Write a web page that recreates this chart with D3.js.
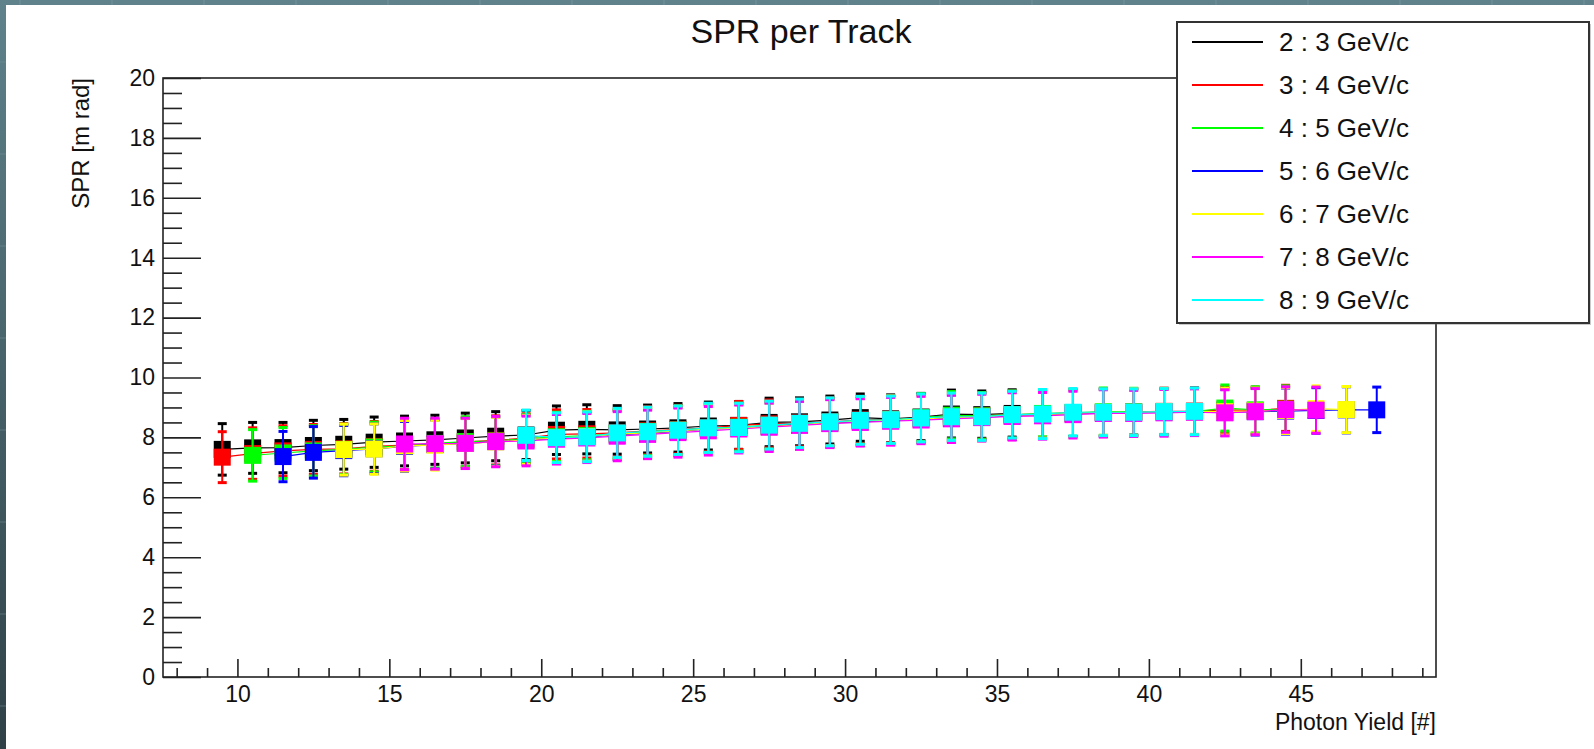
<!DOCTYPE html>
<html>
<head>
<meta charset="utf-8">
<script src="https://cdn.jsdelivr.net/npm/d3@7/dist/d3.min.js"></script>
<style>
  html, body { margin: 0; padding: 0; background: #ffffff; }
  svg { display: block; }
  text { font-family: "Liberation Sans", Arial, Helvetica, sans-serif; fill: #111; }
</style>
</head>
<body>
<svg id="chart" width="1594" height="749"></svg>
<script>
// ---------------- DATA ----------------
const photonYield = [9.5,10.5,11.5,12.5,13.5,14.5,15.5,16.5,17.5,18.5,19.5,20.5,21.5,22.5,23.5,24.5,25.5,26.5,27.5,28.5,29.5,30.5,31.5,32.5,33.5,34.5,35.5,36.5,37.5,38.5,39.5,40.5,41.5,42.5,43.5,44.5,45.5,46.5,47.5];

const seriesLabels = ["2 : 3 GeV/c","3 : 4 GeV/c","4 : 5 GeV/c","5 : 6 GeV/c","6 : 7 GeV/c","7 : 8 GeV/c","8 : 9 GeV/c"];
const seriesColors = ["#000000","#ff0000","#00ff00","#0000ff","#ffff00","#ff00ff","#00ffff"];

const spr_2_3 = [7.60,7.65,7.66,7.73,7.77,7.84,7.88,7.92,7.98,8.04,8.08,8.24,8.27,8.25,8.28,8.32,8.38,8.40,8.50,8.52,8.58,8.66,8.62,8.68,8.78,8.76,8.80,null,null,null,null,null,null,null,null,null,null,null,null];
const err_2_3 = [0.86,0.85,0.84,0.84,0.83,0.84,0.83,0.82,0.83,0.82,0.82,0.81,0.82,0.81,0.80,0.81,0.80,0.80,0.81,0.80,0.80,0.79,0.80,0.79,0.80,0.79,0.79,null,null,null,null,null,null,null,null,null,null,null,null];

const spr_3_4 = [7.34,7.46,7.55,7.60,7.62,7.70,7.74,7.78,7.85,7.90,7.98,8.10,8.12,8.15,8.22,8.26,8.32,8.40,8.45,8.48,8.52,8.58,8.60,8.64,8.70,8.72,8.76,8.78,8.82,8.84,8.85,8.87,8.88,8.92,8.90,8.97,null,null,null];
const err_3_4 = [0.85,0.86,0.84,0.83,0.84,0.83,0.82,0.83,0.82,0.82,0.81,0.82,0.81,0.81,0.80,0.81,0.80,0.80,0.80,0.79,0.80,0.79,0.79,0.80,0.79,0.78,0.79,0.78,0.79,0.78,0.78,0.77,0.78,0.77,0.78,0.77,null,null,null];

const spr_4_5 = [null,7.40,7.48,7.55,7.60,7.68,7.72,7.80,7.86,7.88,7.96,8.02,8.06,8.12,8.20,8.24,8.30,8.34,8.40,8.45,8.50,8.56,8.58,8.66,8.74,8.72,8.76,8.80,8.82,8.86,8.86,8.84,8.86,8.98,8.92,8.94,null,null,null];
const err_4_5 = [null,0.86,0.85,0.84,0.84,0.83,0.83,0.82,0.83,0.82,0.81,0.82,0.81,0.81,0.80,0.81,0.80,0.80,0.79,0.80,0.80,0.79,0.79,0.80,0.79,0.78,0.79,0.78,0.78,0.79,0.78,0.77,0.78,0.77,0.77,0.78,null,null,null];

const spr_5_6 = [null,null,7.36,7.50,7.56,7.62,7.70,7.76,7.80,7.86,7.92,7.96,8.02,8.08,8.14,8.20,8.28,8.30,8.36,8.44,8.48,8.52,8.56,8.62,8.64,8.68,8.72,8.76,8.80,8.82,8.84,8.86,8.86,8.84,8.86,8.88,8.90,8.92,8.92];
const err_5_6 = [null,null,0.84,0.86,0.84,0.83,0.83,0.82,0.83,0.82,0.82,0.81,0.81,0.82,0.80,0.81,0.80,0.80,0.79,0.80,0.80,0.79,0.79,0.80,0.78,0.79,0.79,0.78,0.78,0.79,0.77,0.78,0.78,0.77,0.78,0.77,0.76,0.77,0.76];

const spr_6_7 = [null,null,null,null,7.59,7.61,7.72,7.74,7.80,7.85,7.92,7.98,8.03,8.10,8.16,8.22,8.28,8.30,8.36,8.42,8.50,8.54,8.58,8.62,8.66,8.68,8.74,8.76,8.80,8.84,8.84,8.86,8.86,8.86,8.88,8.90,8.96,8.93,null];
const err_6_7 = [null,null,null,null,0.85,0.84,0.84,0.83,0.83,0.82,0.82,0.81,0.82,0.81,0.80,0.81,0.80,0.80,0.79,0.80,0.79,0.79,0.80,0.78,0.79,0.79,0.78,0.78,0.79,0.77,0.78,0.78,0.77,0.78,0.77,0.77,0.76,0.77,null];

const spr_7_8 = [null,null,null,null,null,null,7.78,7.79,7.80,7.86,7.88,7.94,7.98,8.04,8.10,8.16,8.22,8.28,8.34,8.40,8.46,8.50,8.54,8.58,8.62,8.66,8.70,8.72,8.76,8.80,8.80,8.82,8.84,8.82,8.86,8.93,8.91,null,null];
const err_7_8 = [null,null,null,null,null,null,0.86,0.85,0.84,0.84,0.83,0.83,0.82,0.82,0.81,0.82,0.81,0.80,0.81,0.80,0.80,0.79,0.80,0.79,0.79,0.78,0.79,0.78,0.78,0.79,0.77,0.78,0.78,0.77,0.77,0.76,0.77,null,null];

const spr_8_9 = [null,null,null,null,null,null,null,null,null,null,8.07,7.99,8.02,8.15,8.19,8.24,8.32,8.33,8.41,8.47,8.52,8.57,8.59,8.65,8.69,8.69,8.76,8.78,8.84,8.84,8.84,8.86,8.87,null,null,null,null,null,null];
const err_8_9 = [null,null,null,null,null,null,null,null,null,null,0.84,0.83,0.83,0.82,0.82,0.81,0.82,0.81,0.80,0.81,0.80,0.80,0.79,0.80,0.79,0.79,0.78,0.82,0.79,0.78,0.78,0.77,0.78,null,null,null,null,null,null];

const xMajorTicks = [10,15,20,25,30,35,40,45];
const yMajorTicks = [0,2,4,6,8,10,12,14,16,18,20];

const titleText = "SPR per Track";
const xTitle = "Photon Yield [#]";
const yTitle = "SPR [m rad]";

const sprSeries = [spr_2_3, spr_3_4, spr_4_5, spr_5_6, spr_6_7, spr_7_8, spr_8_9];
const errSeries = [err_2_3, err_3_4, err_4_5, err_5_6, err_6_7, err_7_8, err_8_9];

// ---------------- LAYOUT ----------------
const W = 1594, H = 749;
const frame = { left: 163, right: 1436, top: 78, bottom: 677 };

const svg = d3.select("#chart");

// slide background (dark strips at top/left)
const defs = svg.append("defs");
const grad = defs.append("linearGradient").attr("id", "bg").attr("x1", 0).attr("y1", 0).attr("x2", 0).attr("y2", 1);
grad.append("stop").attr("offset", "0%").attr("stop-color", "#5f828b");
grad.append("stop").attr("offset", "100%").attr("stop-color", "#2f4147");
svg.append("rect").attr("x", 0).attr("y", 0).attr("width", W).attr("height", H).attr("fill", "url(#bg)");
const bgMarks = d3.range(20, W, 92);
svg.append("g").selectAll("line").data(bgMarks).join("line")
  .attr("x1", d => d).attr("x2", d => d).attr("y1", 0).attr("y2", 5)
  .attr("stroke", "#8aa6ad").attr("stroke-opacity", 0.5);
svg.append("g").selectAll("line").data(d3.range(62, H, 92)).join("line")
  .attr("x1", 0).attr("x2", 6).attr("y1", d => d).attr("y2", d => d)
  .attr("stroke", "#7a969d").attr("stroke-opacity", 0.5);
svg.append("rect").attr("x", 6).attr("y", 5).attr("width", W - 6).attr("height", H - 5).attr("fill", "#ffffff");

// scales
const x = d3.scaleLinear().domain([7.55, 49.45]).range([frame.left, frame.right]);
const y = d3.scaleLinear().domain([0, 20]).range([frame.bottom, frame.top]);

// ---------------- AXES ----------------
const xMinor = d3.range(8, 50, 1).filter(v => v % 5 !== 0);
const yMinor = d3.range(0.5, 20, 0.5).filter(v => v % 2 !== 0);

const gx = svg.append("g").attr("transform", `translate(0,${frame.bottom})`);
gx.call(d3.axisBottom(x).tickValues(xMajorTicks).tickSizeInner(-18).tickSizeOuter(0).tickPadding(9).tickFormat(d3.format("d")));
const gxm = svg.append("g").attr("transform", `translate(0,${frame.bottom})`);
gxm.call(d3.axisBottom(x).tickValues(xMinor).tickSizeInner(-9).tickSizeOuter(0).tickFormat(""));

const gy = svg.append("g").attr("transform", `translate(${frame.left},0)`);
gy.call(d3.axisLeft(y).tickValues(yMajorTicks).tickSizeInner(-38).tickSizeOuter(0).tickPadding(8).tickFormat(d3.format("d")));
const gym = svg.append("g").attr("transform", `translate(${frame.left},0)`);
gym.call(d3.axisLeft(y).tickValues(yMinor).tickSizeInner(-19).tickSizeOuter(0).tickFormat(""));

[gx, gxm, gy, gym].forEach(g => {
  g.select(".domain").remove();
  g.selectAll(".tick line").attr("stroke", "#222").attr("stroke-width", 1.6);
  g.selectAll(".tick text").attr("font-size", 23).attr("fill", "#111")
    .attr("font-family", "'Liberation Sans', Arial, Helvetica, sans-serif");
});

// frame
svg.append("rect")
  .attr("x", frame.left).attr("y", frame.top)
  .attr("width", frame.right - frame.left).attr("height", frame.bottom - frame.top)
  .attr("fill", "none").attr("stroke", "#222").attr("stroke-width", 1.6);

// ---------------- SERIES ----------------
const markerSize = 17;
const capW = 9;
const plotG = svg.append("g");

sprSeries.forEach((vals, si) => {
  const color = seriesColors[si];
  const pts = photonYield.map((px, i) => ({ px, v: vals[i], e: errSeries[si][i] }))
    .filter(d => d.v !== null);
  const g = plotG.append("g");

  g.append("path")
    .datum(pts)
    .attr("fill", "none")
    .attr("stroke", color)
    .attr("stroke-width", 1.2)
    .attr("d", d3.line().x(d => x(d.px)).y(d => y(d.v)));

  const eb = g.selectAll("g.eb").data(pts).join("g").attr("class", "eb");
  eb.append("line")
    .attr("x1", d => x(d.px)).attr("x2", d => x(d.px))
    .attr("y1", d => y(d.v + d.e)).attr("y2", d => y(d.v - d.e))
    .attr("stroke", color).attr("stroke-width", 2);
  eb.append("line")
    .attr("x1", d => x(d.px) - capW / 2).attr("x2", d => x(d.px) + capW / 2)
    .attr("y1", d => y(d.v + d.e)).attr("y2", d => y(d.v + d.e))
    .attr("stroke", color).attr("stroke-width", 3);
  eb.append("line")
    .attr("x1", d => x(d.px) - capW / 2).attr("x2", d => x(d.px) + capW / 2)
    .attr("y1", d => y(d.v - d.e)).attr("y2", d => y(d.v - d.e))
    .attr("stroke", color).attr("stroke-width", 3);

  g.selectAll("rect.mk").data(pts).join("rect").attr("class", "mk")
    .attr("x", d => x(d.px) - markerSize / 2)
    .attr("y", d => y(d.v) - markerSize / 2)
    .attr("width", markerSize).attr("height", markerSize)
    .attr("fill", color);
});

// ---------------- TITLES ----------------
svg.append("text").attr("x", 801).attr("y", 43).attr("text-anchor", "middle")
  .attr("font-size", 34).text(titleText);

svg.append("text").attr("x", frame.right).attr("y", 730).attr("text-anchor", "end")
  .attr("font-size", 23).text(xTitle);

svg.append("text").attr("transform", `translate(89,${frame.top}) rotate(-90)`)
  .attr("text-anchor", "end").attr("font-size", 24).text(yTitle);

// ---------------- LEGEND ----------------
const leg = { x: 1177, y: 22, w: 412, h: 301 };
svg.append("rect").attr("x", leg.x + 2).attr("y", leg.y + 2).attr("width", leg.w).attr("height", leg.h)
  .attr("fill", "#666").attr("opacity", 0.35);
svg.append("rect").attr("x", leg.x).attr("y", leg.y).attr("width", leg.w).attr("height", leg.h)
  .attr("fill", "#ffffff").attr("stroke", "#333").attr("stroke-width", 2);

const rowY = d3.scaleLinear().domain([0, seriesLabels.length - 1]).range([42, 300]);
const lg = svg.append("g").selectAll("g").data(seriesLabels).join("g")
  .attr("transform", (d, i) => `translate(0,${rowY(i)})`);
lg.append("line").attr("x1", 1192).attr("x2", 1263).attr("y1", 0).attr("y2", 0)
  .attr("stroke", (d, i) => seriesColors[i]).attr("stroke-width", 2.2);
lg.append("text").attr("x", 1279).attr("y", 0).attr("dy", "0.36em")
  .attr("font-size", 26).text(d => d);
</script>
</body>
</html>
